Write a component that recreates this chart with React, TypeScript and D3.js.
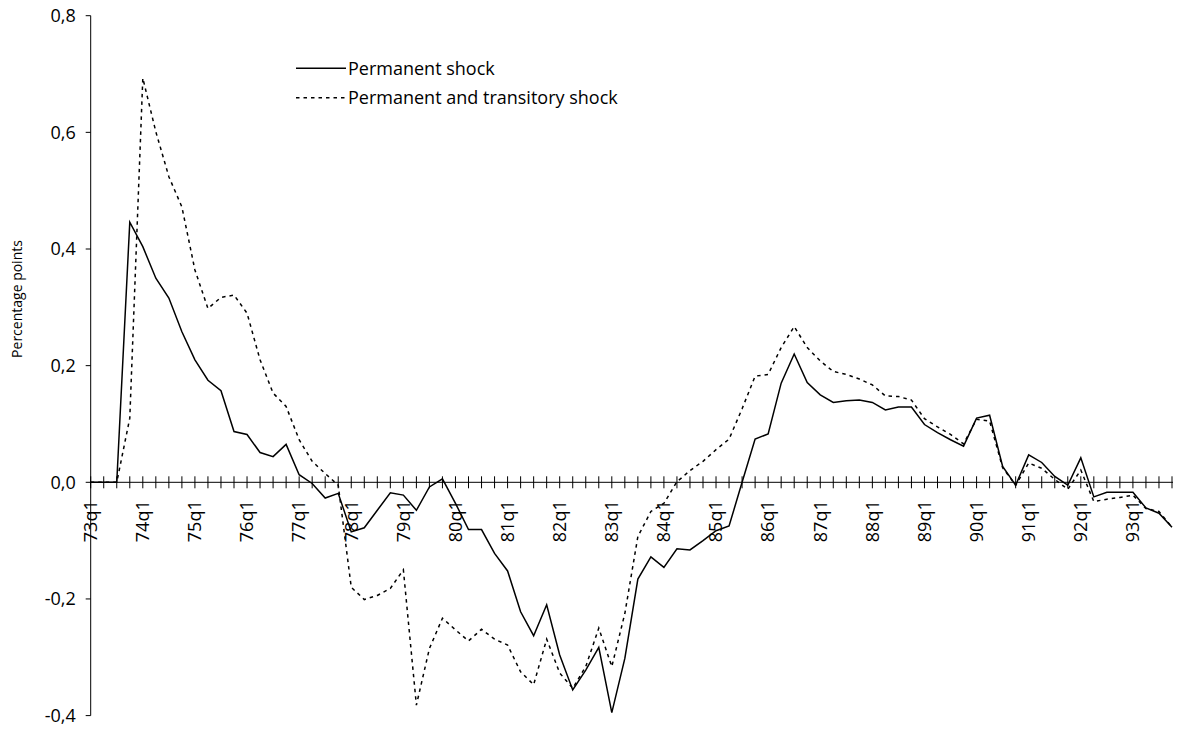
import * as React from "react"
import * as d3 from "d3"

// 73q1 .. 93q4, one point per quarter
const years = d3.range(73, 94)
const quarters = years.flatMap((y) => [1, 2, 3, 4].map((q) => `${y}q${q}`))

const permanent = [
  0, 0, 0, 0.446, 0.404, 0.35, 0.316, 0.258, 0.21, 0.175,
  0.157, 0.087, 0.082, 0.051, 0.044, 0.065, 0.013, -0.002, -0.027, -0.019,
  -0.085, -0.078, -0.048, -0.018, -0.022, -0.048, -0.008, 0.006, -0.036, -0.081,
  -0.081, -0.122, -0.152, -0.222, -0.263, -0.21, -0.296, -0.356, -0.322, -0.283,
  -0.395, -0.302, -0.166, -0.128, -0.146, -0.114, -0.116, -0.1, -0.083, -0.075,
  0.0, 0.074, 0.083, 0.17, 0.22, 0.171, 0.15, 0.137, 0.14, 0.141,
  0.137, 0.124, 0.129, 0.129, 0.099, 0.085, 0.073, 0.062, 0.11, 0.115,
  0.027, -0.005, 0.047, 0.034, 0.01, -0.005, 0.042, -0.025, -0.017, -0.017,
  -0.017, -0.044, -0.053, -0.077,
]

const permTransitory = [
  0, 0, 0, 0.11, 0.693, 0.601, 0.524, 0.472, 0.364, 0.298,
  0.317, 0.321, 0.29, 0.21, 0.153, 0.13, 0.073, 0.036, 0.015, -0.005,
  -0.18, -0.201, -0.194, -0.182, -0.15, -0.382, -0.285, -0.233, -0.253, -0.272,
  -0.252, -0.269, -0.279, -0.325, -0.347, -0.269, -0.327, -0.353, -0.316, -0.25,
  -0.316, -0.225, -0.093, -0.05, -0.036, 0.001, 0.02, 0.036, 0.056, 0.074,
  0.126, 0.182, 0.185, 0.231, 0.267, 0.231, 0.208, 0.19, 0.185, 0.177,
  0.167, 0.148, 0.147, 0.141, 0.109, 0.095, 0.082, 0.066, 0.108, 0.105,
  0.025, -0.005, 0.033, 0.024, 0.005, -0.012, 0.021, -0.033, -0.029, -0.026,
  -0.022, -0.045, -0.05, -0.077,
]

const yTicks = [-0.4, -0.2, 0, 0.2, 0.4, 0.6, 0.8]
const seriesNames = ["Permanent shock", "Permanent and transitory shock"]

const width = 1179
const height = 734
const font = "'Open Sans', sans-serif"
const dash = "3.5,4"

export default function App() {
  const x = d3.scaleLinear().domain([0, quarters.length - 1]).range([90.7, 1172])
  const y = d3.scaleLinear().domain([-0.4, 0.8]).range([715.6, 15.7])

  const line = d3
    .line<number>()
    .x((_, i) => x(i))
    .y((d) => y(d))

  const fmt = (v: number) => d3.format(".1f")(v).replace("−", "-").replace(".", ",")
  const x0 = x(0)
  const yZero = y(0)

  return (
    <svg
      width={width}
      height={height}
      viewBox={`0 0 ${width} ${height}`}
      style={{ position: "absolute", left: 0, top: 0, background: "#fff" }}
    >
      {/* y axis */}
      <line x1={x0} x2={x0} y1={y(0.8)} y2={y(-0.4)} stroke="#000" strokeWidth={1} />
      {yTicks.map((t) => (
        <g key={t}>
          <line x1={x0 - 5} x2={x0} y1={y(t)} y2={y(t)} stroke="#000" strokeWidth={1} />
          <text
            x={x0 - 15}
            y={y(t)}
            dy="0.35em"
            textAnchor="end"
            fontFamily={font}
            fontSize={18}
            fill="#000"
          >
            {fmt(t)}
          </text>
        </g>
      ))}
      <text
        transform={`translate(22,${299}) rotate(-90)`}
        textAnchor="middle"
        fontFamily={font}
        fontSize={14}
        fill="#000"
      >
        Percentage points
      </text>

      {/* x axis at zero */}
      <line x1={x0} x2={x(quarters.length - 1) + 1} y1={yZero} y2={yZero} stroke="#000" strokeWidth={1} />
      {quarters.map((q, i) => (
        <line key={q} x1={x(i)} x2={x(i)} y1={yZero - 6} y2={yZero + 6} stroke="#000" strokeWidth={1} />
      ))}
      {quarters.map((q, i) =>
        q.endsWith("q1") ? (
          <text
            key={q}
            transform={`translate(${x(i)},${yZero + 18}) rotate(-90)`}
            dy="0.35em"
            textAnchor="end"
            fontFamily={font}
            fontSize={18}
            fill="#000"
          >
            {q}
          </text>
        ) : null
      )}

      {/* series */}
      <path d={line(permTransitory) ?? ""} fill="none" stroke="#000" strokeWidth={1.5} strokeDasharray={dash} />
      <path d={line(permanent) ?? ""} fill="none" stroke="#000" strokeWidth={1.5} />

      {/* legend */}
      <g fontFamily={font} fontSize={18} fill="#000">
        <line x1={296} x2={346} y1={68.3} y2={68.3} stroke="#000" strokeWidth={1.5} />
        <text x={348} y={68.3} dy="0.35em">{seriesNames[0]}</text>
        <line x1={296} x2={346} y1={97.7} y2={97.7} stroke="#000" strokeWidth={1.5} strokeDasharray={dash} />
        <text x={348} y={97.7} dy="0.35em">{seriesNames[1]}</text>
      </g>
    </svg>
  )
}
